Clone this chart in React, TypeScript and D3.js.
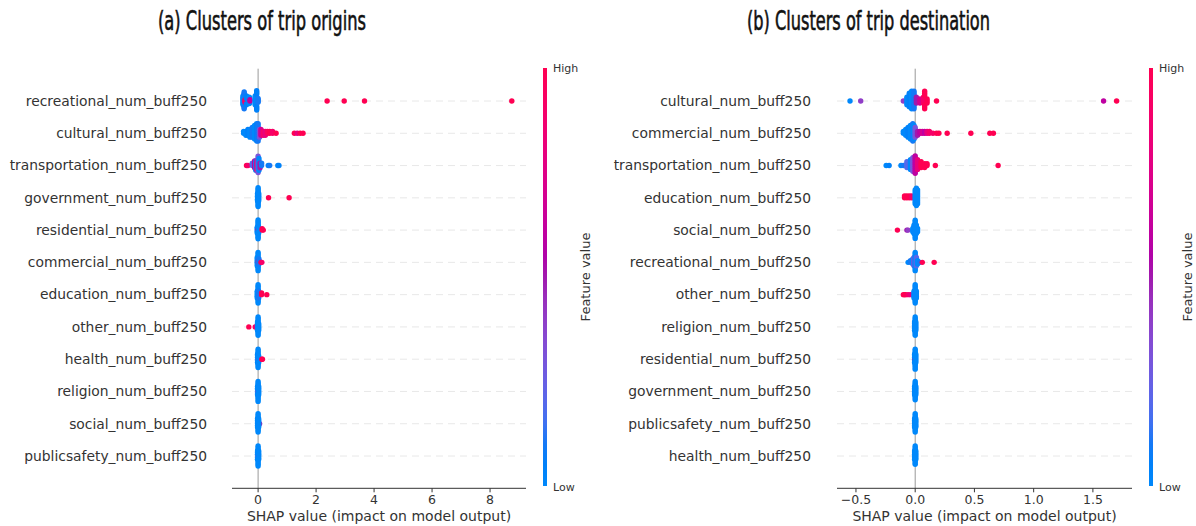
import React from 'react';
import * as d3 from 'd3';

type P = [number, number, number]; // [shap value, feature value 0..1, count]

const originFeatures = [
  'recreational_num_buff250', 'cultural_num_buff250', 'transportation_num_buff250',
  'government_num_buff250', 'residential_num_buff250', 'commercial_num_buff250',
  'education_num_buff250', 'other_num_buff250', 'health_num_buff250',
  'religion_num_buff250', 'social_num_buff250', 'publicsafety_num_buff250',
];

const originPoints: P[][] = [
  [[-0.52, 0, 8], [-0.48, 0.1, 6], [-0.45, 0.9, 3], [-0.40, 0.05, 5], [-0.30, 0, 6], [-0.28, 0.6, 2],
   [-0.10, 0, 8], [-0.05, 0.05, 8], [0.0, 0.1, 4], [2.38, 1, 1], [2.97, 1, 1], [3.67, 1, 1], [8.75, 1, 1]],
  [[-0.50, 0, 2], [-0.42, 0, 3], [-0.35, 0.05, 4], [-0.28, 0, 5], [-0.20, 0.1, 6], [-0.12, 0, 8],
   [-0.05, 0.05, 10], [0.0, 0.1, 10], [0.05, 0.3, 5], [0.10, 0.7, 4], [0.18, 0.9, 3], [0.25, 0.8, 3],
   [0.32, 0.95, 2], [0.40, 1, 2], [0.50, 0.9, 2], [0.62, 1, 1], [1.25, 1, 1], [1.35, 0.8, 1],
   [1.45, 1, 1], [1.55, 1, 1]],
  [[-0.40, 1, 1], [-0.35, 0.9, 1], [-0.20, 0.2, 2], [-0.12, 0.6, 4], [-0.08, 0.1, 5], [-0.04, 0.8, 5],
   [0.0, 0.3, 8], [0.03, 0, 6], [0.07, 0.5, 3], [0.12, 0.1, 2], [0.35, 0.05, 1], [0.40, 0.1, 1],
   [0.68, 0, 1], [0.72, 0.05, 1]],
  [[-0.02, 0, 6], [0, 0, 14], [0.02, 0, 6], [0.36, 1, 1], [1.07, 1, 1]],
  [[-0.03, 0, 5], [0, 0.5, 2], [0, 0, 12], [0.02, 0, 5], [0.14, 1, 2], [0.18, 1, 1]],
  [[-0.03, 0, 6], [0, 0, 12], [0.01, 0.5, 2], [0.03, 0.1, 4], [0.10, 1, 1], [0.13, 0.9, 1]],
  [[-0.03, 0, 5], [0, 0, 12], [0.02, 0.1, 5], [0.12, 1, 2], [0.30, 1, 1]],
  [[-0.32, 1, 1], [-0.10, 1, 1], [-0.07, 0.8, 1], [-0.02, 0, 6], [0, 0, 12], [0.02, 0, 5]],
  [[-0.02, 0, 6], [0, 0, 12], [0.01, 0.4, 1], [0.02, 0, 5], [0.13, 1, 1], [0.15, 1, 1]],
  [[-0.02, 0, 6], [0, 0.4, 1], [0, 0, 12], [0.02, 0, 6]],
  [[-0.02, 0, 6], [0, 0, 12], [0.05, 0.5, 1], [0.02, 0, 6]],
  [[-0.02, 0, 6], [0, 0.3, 1], [0, 0, 12], [0.02, 0, 6]],
];

const originTicks = [0, 2, 4, 6, 8];

const destFeatures = [
  'cultural_num_buff250', 'commercial_num_buff250', 'transportation_num_buff250',
  'education_num_buff250', 'social_num_buff250', 'recreational_num_buff250',
  'other_num_buff250', 'religion_num_buff250', 'residential_num_buff250',
  'government_num_buff250', 'publicsafety_num_buff250', 'health_num_buff250',
];

const destPoints: P[][] = [
  [[-0.55, 0, 1], [-0.46, 0.4, 1], [-0.10, 0.4, 1], [-0.07, 0, 5], [-0.05, 0.05, 8], [-0.03, 0, 10],
   [-0.01, 0.1, 10], [0.01, 0.5, 4], [0.04, 0.7, 3], [0.07, 0.9, 4], [0.08, 1, 6], [0.10, 1, 3],
   [0.18, 1, 1], [1.59, 0.6, 1], [1.70, 1, 1]],
  [[-0.10, 0, 2], [-0.08, 0, 4], [-0.06, 0.05, 6], [-0.04, 0, 8], [-0.02, 0.1, 10], [-0.01, 0, 8],
   [0.0, 0.3, 6], [0.02, 0.5, 3], [0.04, 0.6, 2], [0.06, 0.7, 2], [0.08, 0.6, 2], [0.10, 0.8, 2],
   [0.12, 0.9, 2], [0.15, 0.9, 1], [0.18, 1, 1], [0.20, 1, 1], [0.27, 1, 1], [0.47, 1, 1],
   [0.63, 1, 1], [0.66, 1, 1]],
  [[-0.245, 0, 1], [-0.22, 0.05, 1], [-0.12, 0, 1], [-0.10, 0.1, 1], [-0.07, 0.2, 4], [-0.04, 0, 6],
   [-0.02, 0.3, 8], [0.0, 0.6, 10], [0.02, 0.8, 6], [0.05, 1, 4], [0.08, 1, 3], [0.10, 1, 2],
   [0.17, 1, 1], [0.70, 1, 1]],
  [[-0.09, 1, 2], [-0.07, 1, 2], [-0.05, 1, 2], [-0.03, 0.9, 2], [0.0, 0, 8], [0.01, 0, 10], [0.02, 0, 8]],
  [[-0.15, 1, 1], [-0.07, 0.5, 1], [-0.06, 0.4, 1], [-0.02, 0, 3], [-0.01, 0, 6], [0, 0, 12],
   [0.01, 0, 6], [0.02, 0, 3]],
  [[-0.06, 0, 1], [-0.04, 0.1, 2], [-0.02, 0, 4], [-0.01, 0.3, 6], [0, 0, 12], [0.01, 0.2, 6],
   [0.02, 0, 3], [0.04, 0.1, 1], [0.06, 1, 1], [0.16, 1, 1]],
  [[-0.10, 1, 1], [-0.09, 1, 1], [-0.08, 1, 1], [-0.06, 0.9, 1], [-0.04, 0.8, 1], [-0.01, 0, 5],
   [0, 0, 12], [0.01, 0, 5]],
  [[-0.005, 0, 6], [0, 0, 12], [0.005, 0, 6]],
  [[-0.005, 0, 6], [0, 0.5, 1], [0, 0, 12], [0.005, 0, 6]],
  [[-0.005, 0, 6], [0, 0, 12], [0.005, 0, 6]],
  [[-0.005, 0, 6], [0, 0, 12], [0.005, 0, 6]],
  [[-0.005, 0, 6], [0, 0, 12], [0.005, 0, 6]],
];

const destTicks = [-0.5, 0, 0.5, 1.0, 1.5];

// SHAP red_blue colormap (LCH interpolation)
function redBlue(t: number): string {
  const l = t < 0.5 ? 54 + (40 - 54) * (t / 0.5) : 40 + (54 - 40) * ((t - 0.5) / 0.5);
  const c = 70 + 20 * t;
  const h0 = 4.6588, h1 = 0.35470565 + 2 * Math.PI;
  const h = h0 + (h1 - h0) * t;
  return d3.lab(l, c * Math.cos(h), c * Math.sin(h)).rgb().formatHex();
}

function beeswarm(vals: number[]): number[] {
  const n = vals.length;
  const mn = d3.min(vals) as number, mx = d3.max(vals) as number;
  const quant = vals.map(v => Math.round(100 * (v - mn) / (mx - mn + 1e-8)));
  const inds = d3.range(n).sort((a, b) => quant[a] - quant[b] || a - b);
  const ys = new Array(n).fill(0);
  let layer = 0, last = -1;
  for (const i of inds) {
    if (quant[i] !== last) layer = 0;
    ys[i] = Math.ceil(layer / 2) * ((layer % 2) * 2 - 1);
    layer += 1;
    last = quant[i];
  }
  const m = d3.max(ys.map(y => y + 1)) as number;
  return ys.map(y => y * 0.9 * (0.4 / m));
}

const TOP = 68.7, BOTTOM = 488.3;
const rowY = d3.scaleLinear().domain([0, 11]).range([101, 456]);
const rowStep = (456 - 101) / 11;

type PanelProps = {
  title: string; titleX: number; titleW: number;
  features: string[]; points: P[][];
  domain: [number, number]; range: [number, number];
  ticks: number[]; fmt: (v: number) => string;
  labelRight: number; cbX: number; fvX: number; gid: string;
};

function Panel(p: PanelProps) {
  const x = d3.scaleLinear().domain(p.domain).range(p.range);
  const font = 'DejaVu Sans, sans-serif';
  return (
    <g>
      <text x={p.titleX} y={30} fontFamily="Liberation Sans Narrow, DejaVu Sans Condensed, sans-serif"
        fontSize={27} textLength={p.titleW} lengthAdjust="spacingAndGlyphs" fill="#111"
        stroke="#111" strokeWidth={0.6}>{p.title}</text>
      {p.features.map((f, i) => (
        <line key={'g' + i} x1={p.range[0]} x2={p.range[1]} y1={rowY(i)} y2={rowY(i)}
          stroke="#e2e2e2" strokeWidth={0.8} strokeDasharray="7 5" />
      ))}
      <line x1={x(0)} x2={x(0)} y1={TOP} y2={BOTTOM} stroke="#999" strokeWidth={1} />
      {p.points.map((row, i) => {
        const pts: { v: number; fv: number }[] = [];
        row.forEach(([v, fv, n]) => { for (let k = 0; k < n; k++) pts.push({ v, fv }); });
        const ys = beeswarm(pts.map(d => d.v));
        return (
          <g key={'r' + i}>
            {pts.map((d, j) => (
              <circle key={j} cx={x(d.v)} cy={rowY(i) - ys[j] * rowStep} r={2.7} fill={redBlue(d.fv)} />
            ))}
          </g>
        );
      })}
      {p.features.map((f, i) => (
        <text key={'l' + i} x={p.labelRight} y={rowY(i)} dy="0.35em" textAnchor="end"
          fontFamily={font} fontSize={13.85} fill="#333">{f}</text>
      ))}
      <line x1={p.range[0]} x2={p.range[1]} y1={BOTTOM} y2={BOTTOM} stroke="#333" strokeWidth={1} />
      {p.ticks.map(t => (
        <g key={'t' + t}>
          <line x1={x(t)} x2={x(t)} y1={BOTTOM} y2={BOTTOM + 4} stroke="#333" strokeWidth={1} />
          <text x={x(t)} y={503.5} textAnchor="middle" fontFamily={font} fontSize={12.5} fill="#333">{p.fmt(t)}</text>
        </g>
      ))}
      <text x={(p.range[0] + p.range[1]) / 2} y={520.5} textAnchor="middle" fontFamily={font}
        fontSize={14} fill="#333">SHAP value (impact on model output)</text>
      <defs>
        <linearGradient id={p.gid} x1="0" y1="1" x2="0" y2="0">
          {d3.range(0, 1.0001, 0.05).map(t => (
            <stop key={t} offset={t} stopColor={redBlue(t)} />
          ))}
        </linearGradient>
      </defs>
      <rect x={p.cbX} y={68} width={4} height={418} fill={`url(#${p.gid})`} />
      <text x={p.cbX + 10} y={68} dy="0.35em" fontFamily={font} fontSize={11} fill="#333">High</text>
      <text x={p.cbX + 10} y={487} dy="0.35em" fontFamily={font} fontSize={11} fill="#333">Low</text>
      <text transform={`translate(${p.fvX},277) rotate(-90)`} textAnchor="middle" dy="0.35em"
        fontFamily={font} fontSize={13} fill="#333">Feature value</text>
    </g>
  );
}

const fmtLeft = (v: number) => d3.format('d')(v);
const fmtRight = (v: number) => d3.format('.1f')(v).replace('-', '\u2212');

export default function App() {
  return (
    <svg width={1196} height={526} style={{ position: 'absolute', left: 0, top: 0, background: '#fff' }}>
      <rect width={1196} height={526} fill="#fff" />
      <Panel title="(a) Clusters of trip origins" titleX={158} titleW={208}
        features={originFeatures} points={originPoints}
        domain={[-0.9, 9.24]} range={[232, 526]} ticks={originTicks} fmt={fmtLeft}
        labelRight={207} cbX={543} fvX={585} gid="cbA" />
      <Panel title="(b) Clusters of trip destination" titleX={747} titleW={243}
        features={destFeatures} points={destPoints}
        domain={[-0.66, 1.83]} range={[837, 1132]} ticks={destTicks} fmt={fmtRight}
        labelRight={811} cbX={1149} fvX={1187} gid="cbB" />
    </svg>
  );
}
